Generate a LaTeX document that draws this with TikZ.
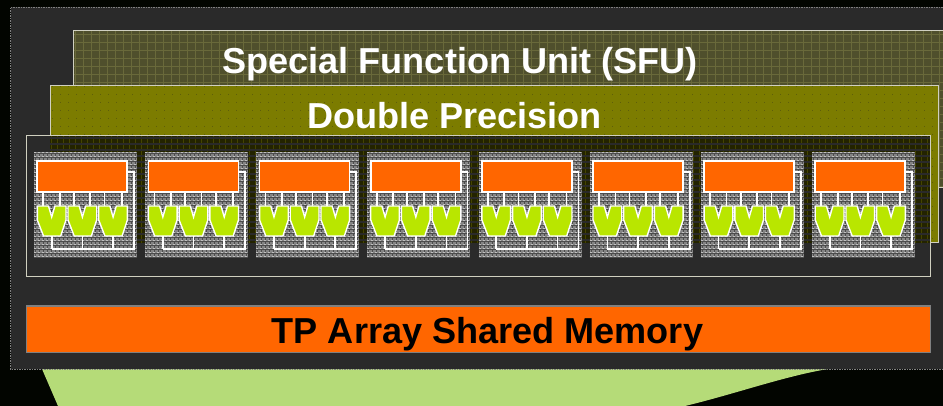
\documentclass[tikz,border=0pt]{standalone}
\usepackage{fontspec}
\setmainfont{Liberation Sans}
\definecolor{bgk}{HTML}{020500}
\definecolor{panel}{HTML}{2A2A2A}
\definecolor{leaf}{HTML}{B5DB78}
\definecolor{sfu}{HTML}{4F4F2C}
\definecolor{sfuline}{HTML}{69693A}
\definecolor{dp}{HTML}{7C7C00}
\definecolor{dpdot}{HTML}{5E5E0A}
\definecolor{edge}{HTML}{D0D0C0}
\definecolor{orng}{HTML}{FF6600}
\definecolor{lime}{HTML}{B9E600}
\definecolor{cellbase}{HTML}{858585}
\definecolor{celldark}{HTML}{4C4C4C}
\definecolor{celllight}{HTML}{C0C0C0}
\tikzset{
  x=1pt,y=-1pt,
  wire/.style={draw=white,line width=1.7pt},
  block/.style={fill=orng,draw=white,line width=1.7pt},
  alu/.style={fill=lime,draw=white,line width=1.4pt,line join=miter},
  title/.style={text=white,font=\fontsize{36.1}{38}\selectfont\bfseries,inner sep=0pt,anchor=base},
  memtitle/.style={text=black,font=\fontsize{36.1}{38}\selectfont\bfseries,inner sep=0pt,anchor=base}
}
\begin{document}
\begin{tikzpicture}
\useasboundingbox (0,0) rectangle (943,406);
\clip (0,0) rectangle (943,406);
\fill[bgk] (0,0) rectangle (943,406);
% green shape below
\fill[leaf] (42,369) -- (58,406) -- (685,406) .. controls (735,394) and (785,376) .. (828,369) -- cycle;
% outer panel
\fill[panel] (10.5,7) rectangle (950,369);
\draw[gray,line width=.8pt,dash pattern=on 1.5pt off 1pt] (950,7) -- (10.5,7) -- (10.5,369) -- (950,369);
% SFU panel
\fill[sfu] (73.5,30.5) rectangle (950,188);
\begin{scope}
\clip (73.5,30.5) rectangle (950,188);
\foreach \i in {0,...,110}{
  \draw[sfuline,line width=1pt] (75+8*\i,30) -- (75+8*\i,188);
}
\foreach \j in {0,...,20}{
  \draw[sfuline,line width=1pt] (73,35+8*\j) -- (950,35+8*\j);
}
\end{scope}
\draw[edge,line width=1pt] (73.5,85) -- (73.5,30.5) -- (950,30.5);
\draw[edge,line width=1pt] (938,188) -- (950,188);
% DP panel
\fill[dp] (50,85.5) rectangle (938,243);
\begin{scope}
\clip (50,85.5) rectangle (938,243);
\foreach \i in {0,...,110}{
  \draw[dpdot,line width=1pt,dash pattern=on 1pt off 7pt] (52+8*\i,86) -- (52+8*\i,243);
}
\end{scope}
\draw[edge,line width=1pt] (50,135) -- (50,85.5) -- (938,85.5) -- (938,243) -- (930,243);
% array box
\fill[panel] (26.5,135.5) rectangle (930.5,277);
\begin{scope}
\clip (50,136) rectangle (930,243);
\fill[black!72!dp] (50,136) rectangle (930,243);
\foreach \i in {0,...,147}{
  \draw[black!45!dp,line width=1pt] (51+6*\i,136) -- (51+6*\i,243);
}
\foreach \j in {0,...,18}{
  \draw[panel,line width=2pt] (50,138+6*\j) -- (930,138+6*\j);
}
\end{scope}
\draw[edge,line width=1pt] (26.5,135.5) rectangle (930.5,277);
% cells
\foreach \k in {0,...,7}{
\begin{scope}[shift={(111.14*\k,0)}]
  \fill[cellbase] (34,152.5) rectangle (137,258.5);
  \foreach \i in {0,...,25}{
    \draw[celldark,line width=1pt] (35.5+4*\i,152.5) -- (35.5+4*\i,258.5);
  }
  \foreach \j in {0,...,26}{
    \draw[celldark,line width=1pt] (34,154+4*\j) -- (137,154+4*\j);
  }
  \foreach \j in {0,...,26}{
    \draw[celllight,line width=1pt,dash pattern=on 2pt off 2pt] (34,152.5+4*\j) -- (137,152.5+4*\j);
  }
  \foreach \xa in {43.3,59.7,73.9,90.3,104.6,122}{
    \draw[wire] (\xa,191) -- (\xa,207);
  }
  \draw[wire] (51.7,236) -- (51.7,249.3);
  \draw[wire] (82.4,236) -- (82.4,249.3);
  \draw[wire] (113,236) -- (113,249.3);
  \draw[wire] (51.7,249.3) -- (134,249.3) -- (134,172) -- (127,172);
  \draw[block] (37.3,160.7) rectangle (127.3,191.7);
  \foreach \v in {0,1,2}{
    \draw[alu,shift={(30.7*\v,0)}] (37.3,206) -- (48.5,206) -- (51.7,217) -- (54.9,206) -- (66,206) -- (66,220) -- (60.7,236) -- (43.5,236) -- (37.3,220) -- cycle;
  }
\end{scope}
}
% memory bar
\fill[orng] (26.5,306) rectangle (930.5,352.5);
\draw[gray,line width=1.8pt] (26.5,306) rectangle (930.5,352.5);
% labels
\node[title] (sfulabel) at (460,74) {Special Function Unit (SFU)};
\node[title] (dplabel) at (454.5,128.5) {Double Precision};
\node[memtitle] (memlabel) at (487.5,343.5) {TP Array Shared Memory};
\end{tikzpicture}
\end{document}
